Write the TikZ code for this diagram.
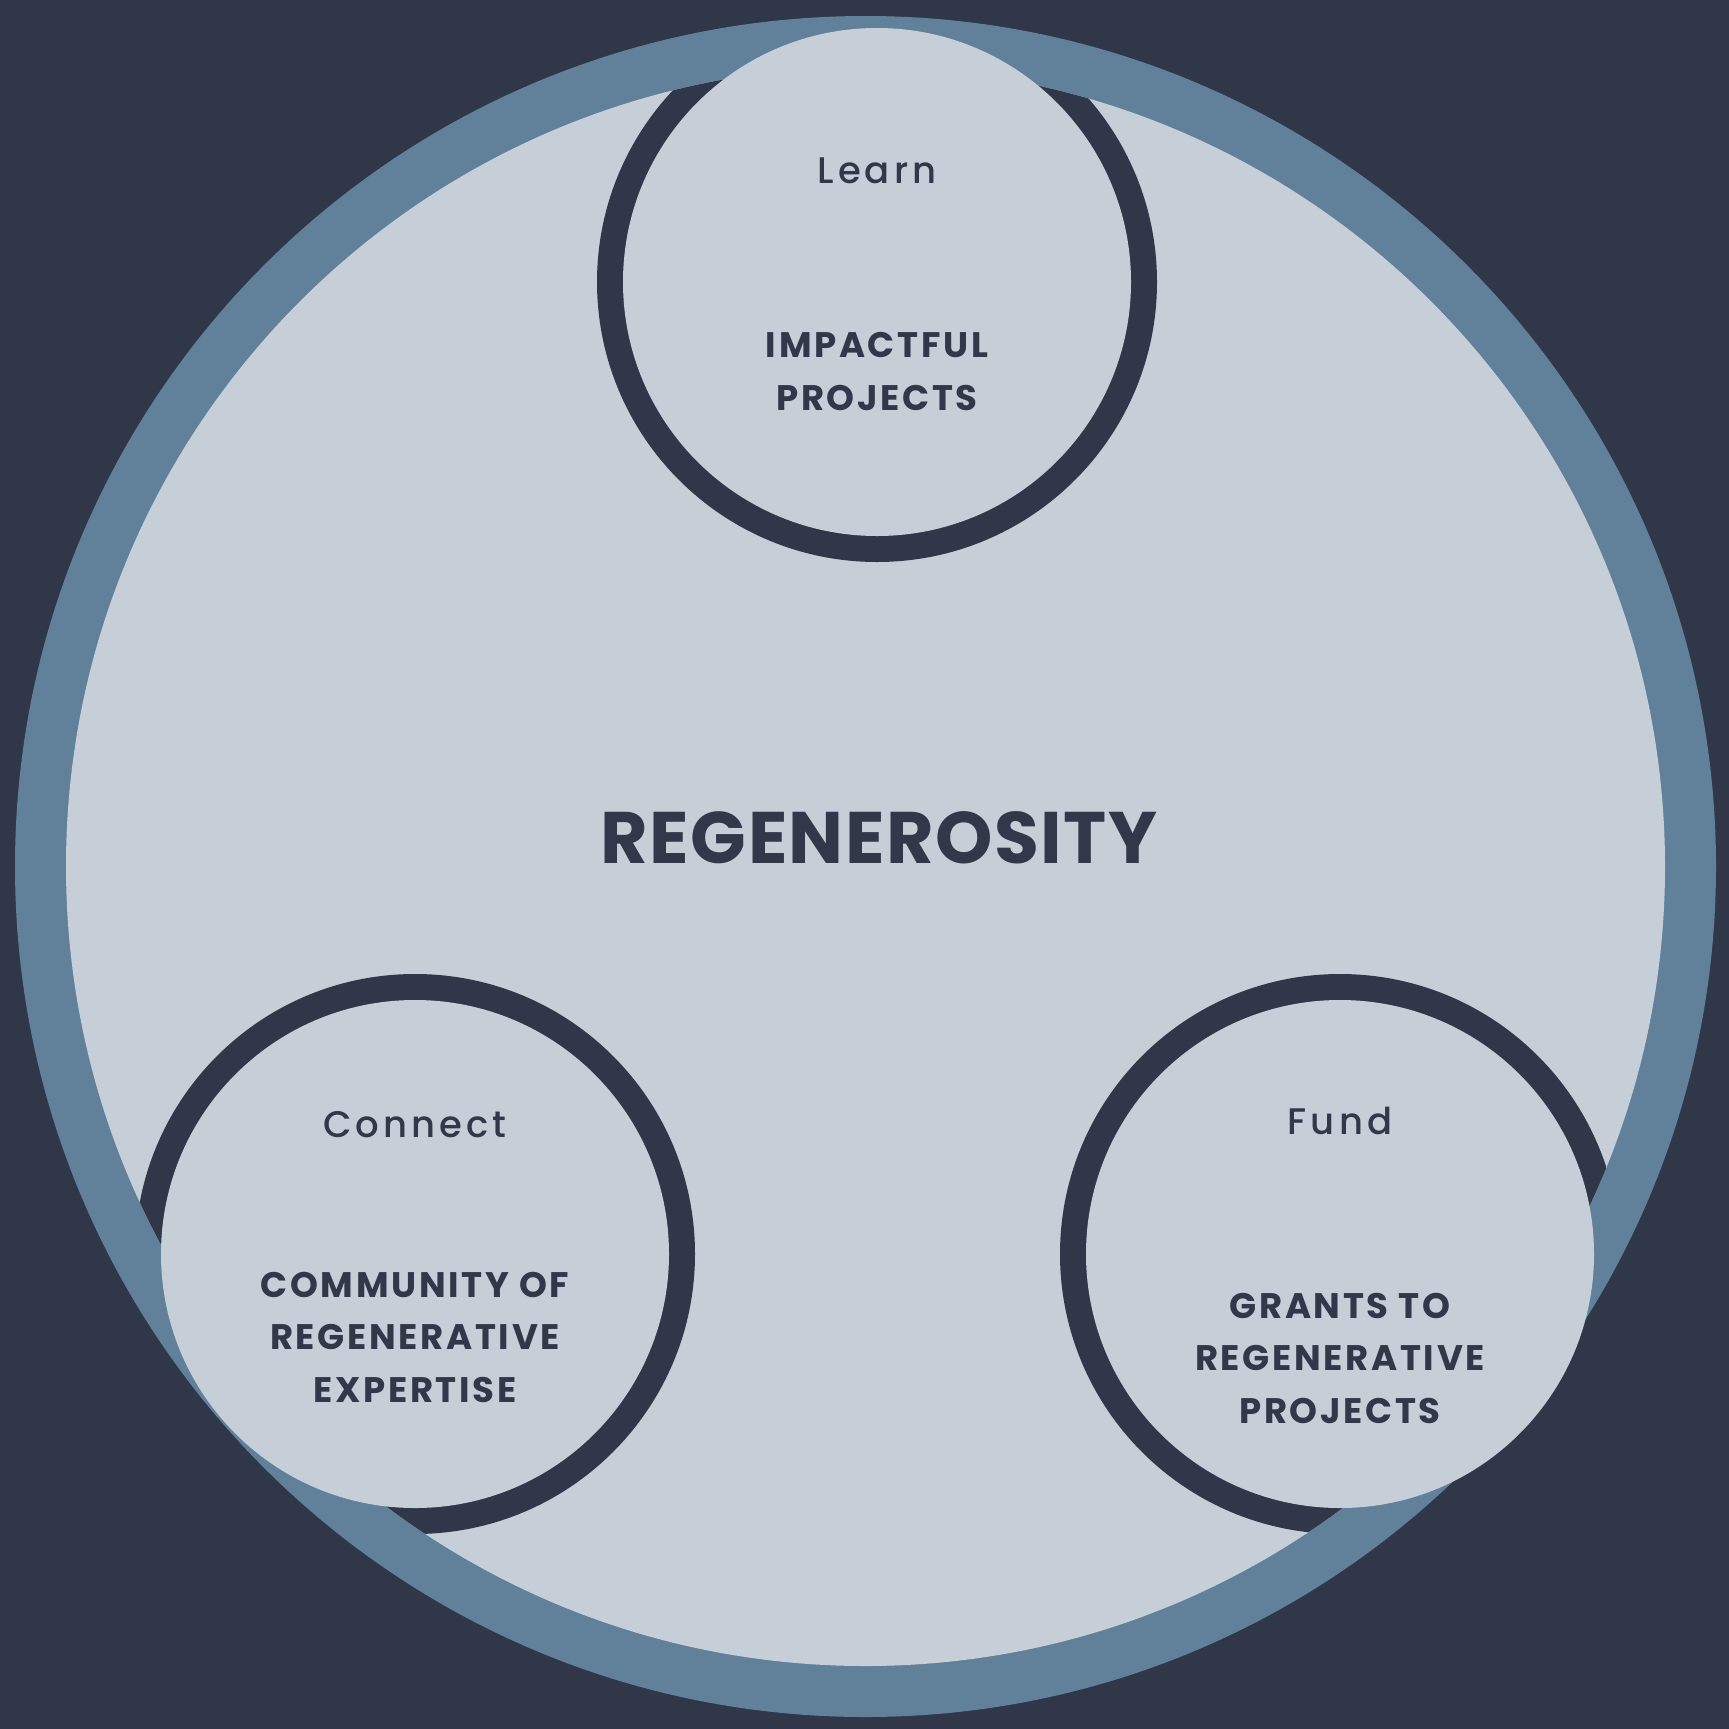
\documentclass[tikz,border=0pt]{standalone}
\usepackage{fontspec}
\setmainfont{Poppins}[UprightFont=* Medium, BoldFont=* Bold]
\definecolor{bgc}{HTML}{2F3749}
\definecolor{steelc}{HTML}{61819B}
\definecolor{lightc}{HTML}{C6CFD8}
\definecolor{inkc}{HTML}{303849}
\tikzset{
  label/.style={text=inkc, inner sep=0pt, anchor=base, align=center},
  verb/.style={label, font=\fontsize{37}{44}\selectfont\addfontfeature{LetterSpace=11}},
  caps/.style={label, font=\fontsize{35.5}{52.5}\selectfont\bfseries\addfontfeature{LetterSpace=7.5}},
  title/.style={label, font=\fontsize{73}{80}\selectfont\bfseries\addfontfeature{LetterSpace=2}},
}
\begin{document}
\begin{tikzpicture}[x=1pt,y=-1pt]
\useasboundingbox (0,0) rectangle (1729,1729);
\fill[bgc] (0,0) rectangle (1729,1729);
\fill[steelc] (865.5,866.5) circle (850.5);
\fill[lightc] (865.5,866.5) circle (799.5);
\begin{scope}
  \clip (865.5,866.5) circle (799.5);
  \fill[bgc] (877,282) circle (280);
  \fill[bgc] (415,1254) circle (280);
  \fill[bgc] (1340,1254) circle (280);
\end{scope}
\fill[lightc] (877,282) circle (254);
\fill[lightc] (415,1254) circle (254);
\fill[lightc] (1340,1254) circle (254);

\node[verb] (learn) at (877,183) {Learn};
\node[caps] (impact) at (877,410) {IMPACTFUL\\PROJECTS};
\node[title] (regen) at (879,863) {REGENEROSITY};
\node[verb] (connect) at (415,1137) {Connect};
\node[caps] (community) at (415,1402) {COMMUNITY OF\\REGENERATIVE\\EXPERTISE};
\node[verb] (fund) at (1340,1134) {Fund};
\node[caps] (grants) at (1340,1423) {GRANTS TO\\REGENERATIVE\\PROJECTS};
\end{tikzpicture}
\end{document}
